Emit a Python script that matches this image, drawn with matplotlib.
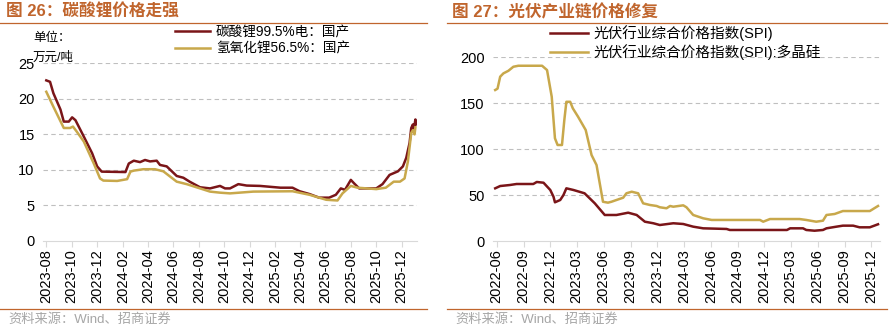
import pandas as pd
import matplotlib
matplotlib.use("Agg")
import matplotlib.pyplot as plt
import matplotlib.dates as mdates
from matplotlib.lines import Line2D

plt.rcParams['font.family'] = ['Liberation Sans', 'Noto Sans CJK SC', 'DejaVu Sans']

# 碳酸锂 / 氢氧化锂 价格（万元/吨）
co3_dates = ["2023-08-01", "2023-08-10", "2023-08-18", "2023-09-04", "2023-09-12", "2023-09-24",
             "2023-10-02", "2023-10-10", "2023-10-30", "2023-11-19", "2023-12-01", "2023-12-12",
             "2024-02-07", "2024-02-15", "2024-02-27", "2024-03-13", "2024-03-25", "2024-04-06",
             "2024-04-22", "2024-04-30", "2024-05-16", "2024-06-09", "2024-06-25", "2024-07-10",
             "2024-08-04", "2024-08-28", "2024-09-21", "2024-10-03", "2024-10-15", "2024-11-04",
             "2024-11-24", "2024-12-26", "2025-02-13", "2025-03-14", "2025-03-31", "2025-04-24",
             "2025-05-17", "2025-06-10", "2025-06-26", "2025-07-08", "2025-07-18", "2025-08-01",
             "2025-08-09", "2025-08-21", "2025-10-01", "2025-10-16", "2025-11-02", "2025-11-22",
             "2025-12-04", "2025-12-12", "2025-12-20", "2025-12-24", "2025-12-28", "2025-12-30",
             "2026-01-03", "2026-01-05"]
co3_vals = [22.6, 22.4, 20.8, 18.5, 16.8, 16.8,
            17.4, 17.0, 14.7, 12.35, 10.5, 9.76,
            9.7, 10.9, 11.3, 11.1, 11.4, 11.2,
            11.3, 10.7, 10.5, 9.15, 8.9, 8.35,
            7.56, 7.4, 7.75, 7.4, 7.4, 8.0,
            7.8, 7.75, 7.5, 7.5, 7.0, 6.6,
            6.1, 6.1, 6.5, 7.4, 7.2, 8.6,
            8.1, 7.4, 7.4, 8.0, 9.3, 9.8,
            10.5, 11.7, 13.8, 15.9, 16.4, 15.6,
            17.1, 16.4]

oh_dates = ["2023-08-01", "2023-08-18", "2023-09-12", "2023-09-27", "2023-10-04", "2023-10-13",
            "2023-10-30", "2023-11-23", "2023-12-08", "2023-12-16", "2024-01-18", "2024-02-11",
            "2024-02-19", "2024-02-27", "2024-03-21", "2024-04-18", "2024-05-08", "2024-06-09",
            "2024-07-03", "2024-08-04", "2024-08-28", "2024-09-21", "2024-10-15", "2024-12-10",
            "2025-03-14", "2025-04-24", "2025-06-03", "2025-06-30", "2025-07-12", "2025-08-01",
            "2025-08-17", "2025-10-01", "2025-10-24", "2025-11-12", "2025-11-27", "2025-12-08",
            "2025-12-16", "2025-12-24", "2025-12-28", "2026-01-01", "2026-01-03"]
oh_vals = [21.0, 18.9, 15.9, 15.9, 16.1, 15.4,
           14.0, 10.9, 8.8, 8.5, 8.45, 8.7,
           9.76, 9.9, 10.1, 10.1, 9.8, 8.35,
           8.0, 7.4, 6.95, 6.8, 6.7, 6.95,
           7.0, 6.5, 5.8, 5.7, 6.7, 7.75,
           7.5, 7.3, 7.5, 8.35, 8.35, 8.8,
           11.2, 15.2, 15.6, 15.0, 16.0]

# 光伏行业综合价格指数
spi_dates = ["2022-05-27", "2022-06-13", "2022-07-16", "2022-08-08", "2022-10-04", "2022-10-16",
             "2022-11-08", "2022-12-01", "2022-12-12", "2022-12-17", "2023-01-04", "2023-01-15",
             "2023-01-25", "2023-02-18", "2023-03-28", "2023-05-02", "2023-06-05", "2023-07-15",
             "2023-08-24", "2023-09-22", "2023-10-20", "2023-11-18", "2023-12-10", "2024-01-25",
             "2024-02-28", "2024-04-02", "2024-05-06", "2024-07-25", "2024-08-05", "2025-02-16",
             "2025-02-27", "2025-04-12", "2025-04-23", "2025-05-21", "2025-06-19", "2025-07-01",
             "2025-08-04", "2025-08-26", "2025-09-30", "2025-10-22", "2025-11-26", "2025-12-24"]
spi_vals = [57.6, 60.1, 61.2, 62.3, 62.3, 64.5,
            63.7, 55.8, 48.5, 42.4, 44.9, 50.3,
            57.6, 55.8, 52.2, 41.3, 28.6, 28.6,
            31.1, 28.6, 21.3, 19.6, 17.7, 19.6,
            18.8, 15.9, 14.1, 13.4, 12.3, 12.3,
            14.1, 14.1, 12.3, 11.5, 12.3, 14.1,
            15.9, 17.0, 17.0, 15.2, 15.2, 18.5]

si_dates = ["2022-05-27", "2022-06-04", "2022-06-13", "2022-06-24", "2022-07-11", "2022-07-28",
            "2022-08-14", "2022-11-03", "2022-11-20", "2022-12-06", "2022-12-17", "2022-12-26",
            "2023-01-10", "2023-01-18", "2023-01-25", "2023-02-07", "2023-02-16", "2023-03-06",
            "2023-04-01", "2023-04-21", "2023-05-08", "2023-05-30", "2023-06-16", "2023-06-28",
            "2023-07-15", "2023-08-07", "2023-08-18", "2023-09-05", "2023-09-27", "2023-10-14",
            "2023-11-06", "2023-11-29", "2023-12-10", "2024-01-02", "2024-01-14", "2024-01-25",
            "2024-02-28", "2024-03-10", "2024-04-02", "2024-05-06", "2024-06-04", "2024-11-16",
            "2024-11-27", "2024-12-20", "2025-03-31", "2025-04-23", "2025-05-27", "2025-06-19",
            "2025-07-01", "2025-07-29", "2025-08-26", "2025-11-26", "2025-12-24"]
si_vals = [164.5, 166.0, 179.0, 182.6, 185.4, 189.8,
           190.9, 190.9, 186.2, 157.2, 112.0, 104.7,
           104.7, 131.8, 151.7, 151.7, 144.6, 135.4,
           121.0, 93.8, 82.9, 43.0, 42.0, 43.0,
           44.9, 47.4, 52.2, 53.9, 52.2, 41.3,
           39.5, 38.4, 37.0, 35.9, 38.4, 37.6,
           39.1, 37.0, 28.6, 25.0, 23.2, 23.2,
           21.3, 24.2, 24.2, 23.2, 21.3, 22.4,
           28.6, 29.7, 32.9, 32.9, 38.4]

RED = "#7A1518"
GOLD = "#C8A84B"
ORANGE = "#C0652D"
GRID = "#BFBFBF"

fig = plt.figure(figsize=(8.95, 3.29), dpi=100)

ax1 = fig.add_axes([0.048, 0.2675, 0.418, 0.540])
ax2 = fig.add_axes([0.551, 0.2666, 0.432, 0.559])


def style_axis(ax, ticks, ylim, yticks):
    for s in ["left", "right", "top"]:
        ax.spines[s].set_visible(False)
    ax.spines["bottom"].set_color("#D9D9D9")
    ax.set_ylim(*ylim)
    ax.set_yticks(yticks)
    ax.set_xticks(pd.to_datetime(ticks))
    ax.xaxis.set_major_formatter(mdates.DateFormatter("%Y-%m"))
    ax.tick_params(axis="x", rotation=90, labelsize=10.5, length=4, color="#D9D9D9", pad=2)
    ax.tick_params(axis="y", labelsize=10.5, length=0, pad=6)
    for y in yticks[1:]:
        ax.axhline(y, color=GRID, lw=0.8, ls=(0, (4, 3)), zorder=0)


ax1.plot(pd.to_datetime(co3_dates), co3_vals, color=RED, lw=1.8, label="碳酸锂99.5%电：国产")
ax1.plot(pd.to_datetime(oh_dates), oh_vals, color=GOLD, lw=1.8, label="氢氧化锂56.5%：国产")
style_axis(ax1, pd.date_range("2023-08-01", "2025-12-01", freq="2MS"), (0, 25), [0, 5, 10, 15, 20, 25])
ax1.set_xlim(pd.Timestamp("2023-07-24"), pd.Timestamp("2026-01-07"))

ax2.plot(pd.to_datetime(spi_dates), spi_vals, color=RED, lw=1.8, label="光伏行业综合价格指数(SPI)")
ax2.plot(pd.to_datetime(si_dates), si_vals, color=GOLD, lw=1.8, label="光伏行业综合价格指数(SPI):多晶硅")
style_axis(ax2, pd.date_range("2022-06-01", "2025-12-01", freq="3MS"), (0, 200), [0, 50, 100, 150, 200])
ax2.set_xlim(pd.Timestamp("2022-05-20"), pd.Timestamp("2025-12-30"))

leg_kw = dict(frameon=False, handlelength=2.6, handletextpad=0.4,
              labelspacing=0.2, borderaxespad=0, borderpad=0)
ax1.legend(loc="upper left", bbox_to_anchor=(175 / 895, 1 - 25 / 329),
           bbox_transform=fig.transFigure, fontsize=9.8, **leg_kw)
ax2.legend(loc="upper left", bbox_to_anchor=(550 / 895, 1 - 25 / 329),
           bbox_transform=fig.transFigure, fontsize=10.5, **leg_kw)

fig.text(33 / 895, 1 - 38 / 329, "单位：", fontsize=9, va="center")
fig.text(33 / 895, 1 - 58 / 329, "万元/吨", fontsize=9, va="center")

# 标题与分隔线
fig.text(6 / 895, 1 - 12 / 329, "图 26：碳酸锂价格走强", fontsize=12, fontweight="bold",
         color=ORANGE, va="center")
fig.text(452 / 895, 1 - 12 / 329, "图 27：光伏产业链价格修复", fontsize=12, fontweight="bold",
         color=ORANGE, va="center")
for x0, x1 in [(0, 427), (447, 887)]:
    fig.add_artist(Line2D([x0 / 895, x1 / 895], [1 - 23 / 329] * 2, color=ORANGE, lw=0.9))
    fig.add_artist(Line2D([x0 / 895, x1 / 895], [1 - 309 / 329] * 2, color=ORANGE, lw=0.9))

fig.text(8 / 895, 1 - 320 / 329, "资料来源：Wind、招商证券", fontsize=9.5, color="#A6A6A6", va="center")
fig.text(455 / 895, 1 - 320 / 329, "资料来源：Wind、招商证券", fontsize=9.5, color="#A6A6A6", va="center")

fig.savefig("out.png", dpi=100)
